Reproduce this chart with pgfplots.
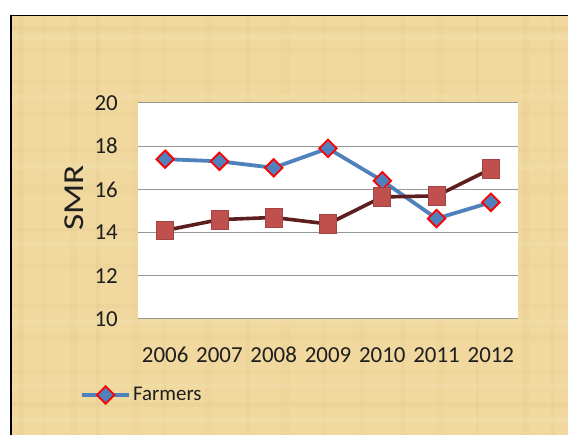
\documentclass[border=0pt]{standalone}
\usepackage{fontspec}
\setmainfont{Carlito}
\usepackage{pgfplots}
\pgfplotsset{compat=1.18}

\definecolor{parch}{RGB}{240,216,158}
\definecolor{parchdark}{RGB}{214,186,122}
\definecolor{parchlight}{RGB}{250,236,194}
\definecolor{farmblue}{RGB}{79,129,189}
\definecolor{markred}{RGB}{255,0,0}
\definecolor{otherline}{RGB}{92,30,30}
\definecolor{otherfill}{RGB}{192,80,77}
\definecolor{gridgray}{RGB}{150,150,150}
\definecolor{textdark}{RGB}{30,30,30}

\begin{document}
\begin{tikzpicture}[x=1bp,y=1bp]
  % page and parchment panel
  \clip (0,0) rectangle (568,435);
  \fill[white] (0,0) rectangle (568,435);
  \fill[parch] (10.7,0) rectangle (568,419.3);
  % woven parchment texture
  \foreach \x/\w/\o in {18/6/0.12,42/3/0.1,70/8/0.08,96/4/0.12,131/10/0.06,163/3/0.1,
                        205/7/0.08,246/4/0.1,281/9/0.06,322/3/0.11,359/6/0.08,401/4/0.1,
                        437/8/0.06,476/3/0.11,522/7/0.09,551/4/0.1}
    {\fill[parchdark,opacity=\o] (\x,0) rectangle ++(\w,419.3);}
  \foreach \y/\h/\o in {28/5/0.12,61/3/0.1,93/8/0.08,127/4/0.1,166/6/0.08,204/3/0.1,
                        241/9/0.06,283/4/0.1,318/6/0.08,352/3/0.11,381/7/0.08,404/5/0.12}
    {\fill[parchdark,opacity=\o] (10.7,\y) rectangle ++(557.3,\h);}
  \foreach \y/\h/\o in {12/6/0.2,48/4/0.18,110/6/0.18,189/5/0.18,265/7/0.18,336/5/0.18,395/6/0.2}
    {\fill[parchlight,opacity=\o] (10.7,\y) rectangle ++(557.3,\h);}
  \draw[line width=1.6bp] (10.7,-5) -- (10.7,419.3) -- (575,419.3);

  \begin{axis}[
    at={(138bp,116bp)}, anchor=south west,
    scale only axis, width=380bp, height=216bp,
    xmin=-0.5, xmax=6.5, ymin=10, ymax=20,
    xtick={0,...,6},
    xticklabels={2006,2007,2008,2009,2010,2011,2012},
    ytick={10,12,...,20},
    axis line style={draw=none},
    major tick length=0pt,
    ymajorgrids, grid style={gridgray, line width=1bp},
    axis background/.style={fill=white},
    /pgf/number format/assume math mode=true,
    tick label style={font=\fontsize{23}{27}\selectfont, text=textdark, inner sep=0pt},
    xticklabel style={anchor=north, yshift=-28bp},
    yticklabel style={anchor=east, xshift=-20bp},
    ylabel={\scalebox{1.22}[1]{SMR}},
    every axis y label/.style={at={(axis description cs:-0.168,0.56)}, rotate=90,
      anchor=center, font=\fontsize{29}{32}\selectfont, text=textdark},
    legend style={at={(axis description cs:-0.1526,-0.352)}, anchor=west,
      draw=none, fill=none, inner sep=0pt,
      font=\fontsize{21}{24}\selectfont, text=textdark},
    legend image code/.code={\draw[mark repeat=2,mark phase=2,#1]
      plot coordinates {(0bp,0bp) (23.5bp,0bp) (47bp,0bp)};},
    clip=false,
  ]
    % Farmers
    \addplot[farmblue, line width=3.8bp,
      mark=square*, mark size=6.2bp,
      mark options={rotate=45, fill=farmblue, draw=markred, line width=1.8bp}]
      coordinates {(0,17.4) (1,17.3) (2,17.0) (3,17.9) (4,16.4) (5,14.65) (6,15.4)};
    \addlegendentry{Farmers}
    % comparison group
    \addplot[otherline, line width=3.6bp, forget plot,
      mark=square*, mark size=8.5bp,
      mark options={yscale=1.1, fill=otherfill, draw=otherfill!85!black, line width=0.6bp}]
      coordinates {(0,14.1) (1,14.6) (2,14.7) (3,14.4) (4,15.65) (5,15.7) (6,16.95)};
  \end{axis}
\end{tikzpicture}
\end{document}
